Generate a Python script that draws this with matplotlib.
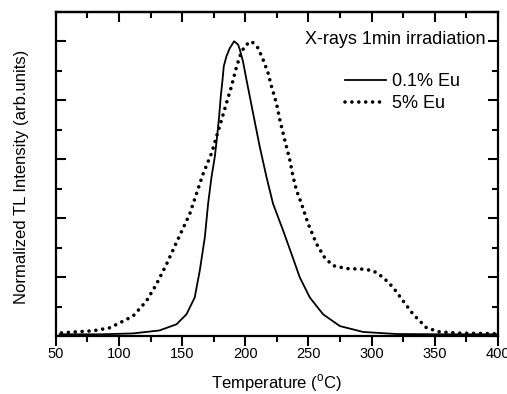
import matplotlib
matplotlib.use("Agg")
import matplotlib.pyplot as plt
from matplotlib.ticker import MultipleLocator

plt.rcParams["font.family"] = ["Liberation Sans", "DejaVu Sans"]
plt.rcParams["mathtext.fontset"] = "custom"
plt.rcParams["mathtext.rm"] = "Liberation Sans"

# 0.1% Eu (solid)
temp_01 = [53, 85, 111, 132, 145.6, 153.5, 160, 164, 168, 170.6, 173.3,
           175.9, 177.7, 179.3, 180.6, 182, 183, 185.1, 187.8, 191.2, 194.3,
           195.7, 198.3, 201, 203.5, 206.2, 211.5, 216.8, 222, 230, 236.6,
           243.2, 251.1, 261.6, 274.9, 293.3, 319.8, 360, 399]
tl_01 = [0.006, 0.006, 0.009, 0.019, 0.040, 0.074, 0.131, 0.222, 0.335,
         0.449, 0.540, 0.608, 0.676, 0.744, 0.812, 0.869, 0.915, 0.949, 0.977,
         1.0, 0.989, 0.972, 0.93, 0.869, 0.815, 0.756, 0.642, 0.54, 0.449,
         0.358, 0.279, 0.199, 0.131, 0.074, 0.034, 0.014, 0.007, 0.006, 0.006]

# 5% Eu (dotted)
temp_5 = [54.5, 79.5, 92.7, 100.7, 111.2, 121.8, 129.7, 137.7, 145.6, 156.1,
          161.4, 166.6, 173.3, 177.2, 181.2, 185.1, 189.1, 192.5, 195.7,
          199.6, 205.0, 210.2, 214.1, 218.1, 220.8, 224.7, 227.4, 231.3,
          235.3, 237.9, 240.6, 244.5, 249.8, 256.4, 263, 269.6, 280.2, 293.3,
          301.2, 309.2, 317.1, 325, 332.9, 343.5, 353.9, 370, 399]
tl_5 = [0.011, 0.018, 0.028, 0.045, 0.068, 0.119, 0.176, 0.244, 0.318, 0.415,
        0.483, 0.55, 0.62, 0.676, 0.733, 0.79, 0.847, 0.904, 0.949, 0.985,
        1.0, 0.977, 0.938, 0.892, 0.847, 0.79, 0.733, 0.665, 0.597, 0.540,
        0.494, 0.449, 0.381, 0.313, 0.265, 0.239, 0.229, 0.227, 0.222, 0.199,
        0.165, 0.119, 0.074, 0.028, 0.014, 0.010, 0.008]

fig = plt.figure(figsize=(5.07, 3.94), dpi=100)
ax = fig.add_axes([0.110, 0.147, 0.872, 0.823])

ax.plot(temp_01, tl_01, color="black", lw=1.3, label="0.1% Eu")
ax.plot(temp_5, tl_5, color="black", lw=2.6, linestyle=(0, (0.01, 1.9)),
        dash_capstyle="round", label="5% Eu")

ax.set_xlim(50, 400)
ax.set_ylim(0, 1.1)
ax.xaxis.set_major_locator(MultipleLocator(50))
ax.xaxis.set_minor_locator(MultipleLocator(25))
ax.yaxis.set_major_locator(MultipleLocator(0.2))
ax.yaxis.set_minor_locator(MultipleLocator(0.1))

# left/right ticks inward, bottom ticks outward, top ticks inward
ax.tick_params(axis="y", which="both", direction="in", right=True,
               labelleft=False, width=1.5)
ax.tick_params(axis="x", which="both", direction="out", top=False,
               width=1.5, labelsize=10.5, pad=1)
ax.tick_params(which="major", length=7)
ax.tick_params(which="minor", length=4)

top = ax.secondary_xaxis("top")
top.xaxis.set_major_locator(MultipleLocator(50))
top.xaxis.set_minor_locator(MultipleLocator(25))
top.tick_params(which="both", direction="in", labeltop=False, width=1.5)
top.tick_params(which="major", length=7)
top.tick_params(which="minor", length=4)
top.spines["top"].set_linewidth(1.6)

for side in ax.spines.values():
    side.set_linewidth(1.6)

ax.set_xlabel("Temperature ($^{\\rm o}$C)", fontsize=12, labelpad=8)
ax.set_ylabel("Normalized TL Intensity (arb.units)", fontsize=12)
ax.yaxis.set_label_coords(-0.061, 0.49)

ax.text(0.971, 0.915, "X-rays 1min irradiation", transform=ax.transAxes,
        ha="right", va="center", fontsize=13)
ax.legend(loc="upper left", bbox_to_anchor=(0.654, 0.81), frameon=False,
          fontsize=13, handlelength=2.3, handletextpad=0.3, labelspacing=0.25,
          borderpad=0, borderaxespad=0)

fig.savefig("out.png", dpi=100)
